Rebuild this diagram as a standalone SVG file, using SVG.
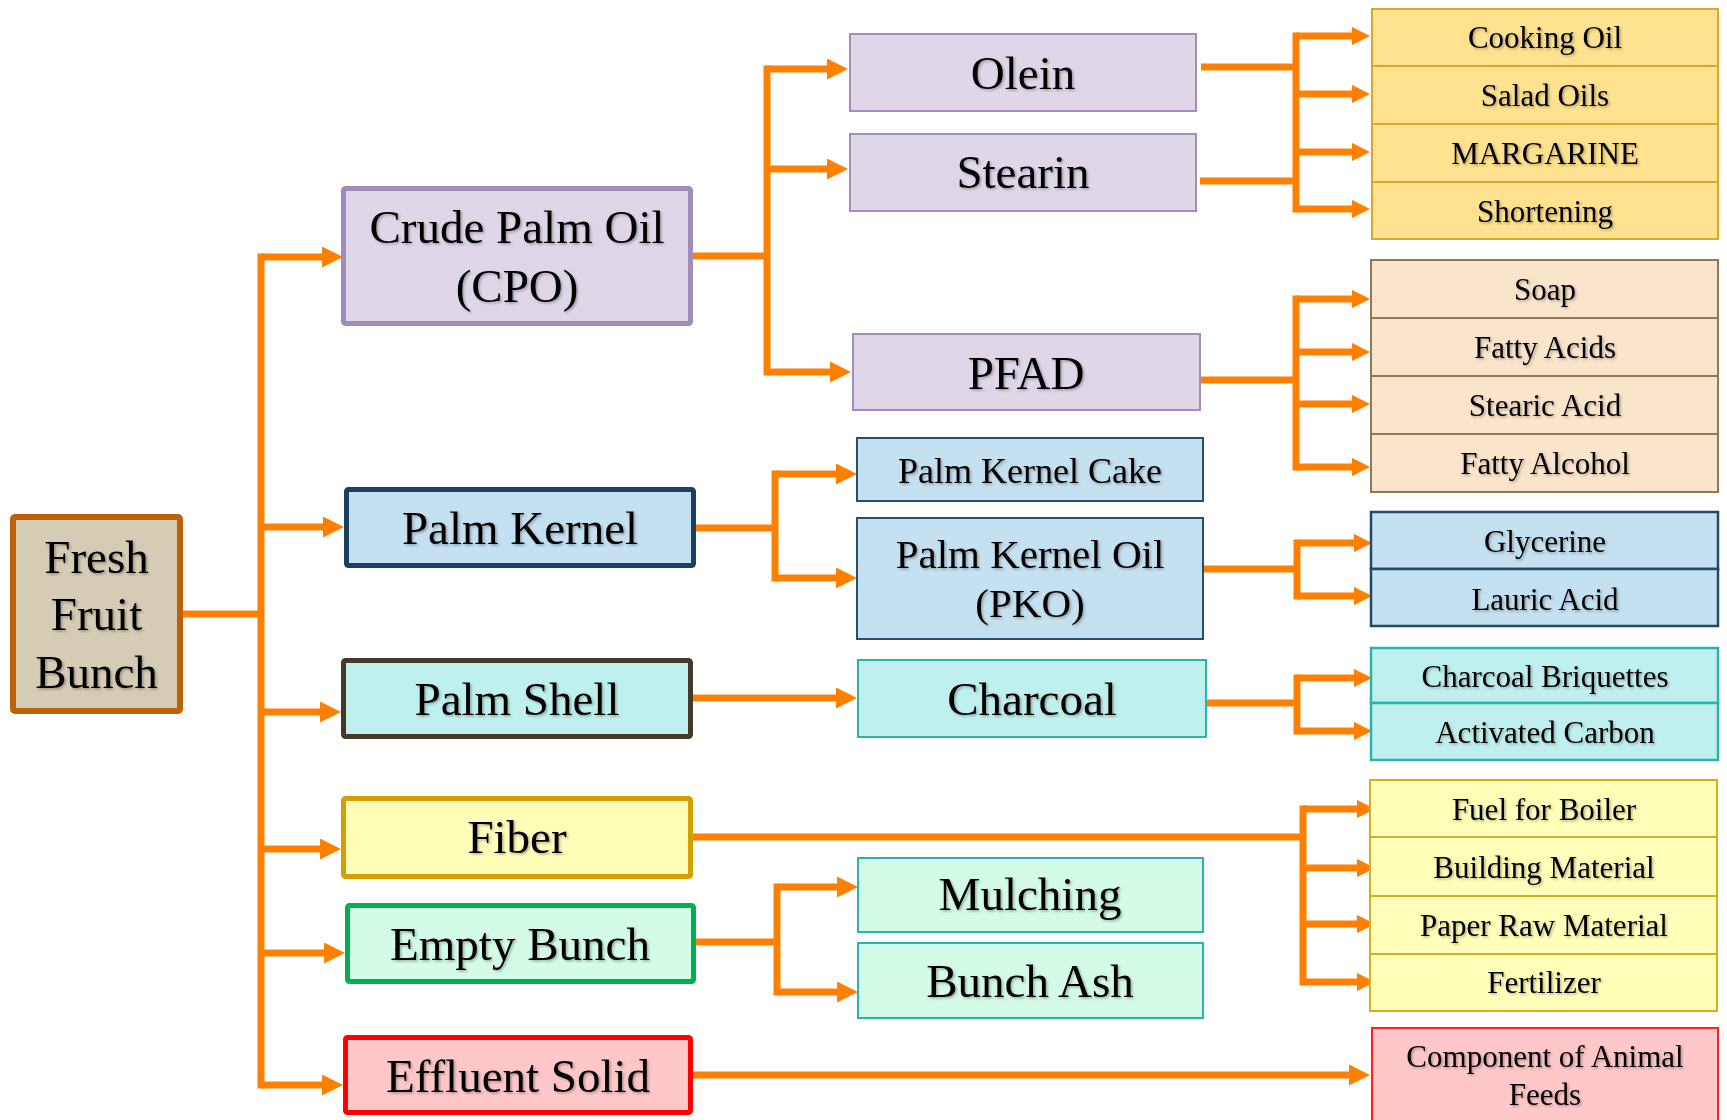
<svg xmlns="http://www.w3.org/2000/svg" width="1727" height="1120" viewBox="0 0 1727 1120">
<style>
text{font-family:"Liberation Serif","Times New Roman",serif;fill:#000;text-anchor:middle;filter:url(#sh)}
.big{font-size:47px}
.mid{font-size:41px}
.pkc{font-size:36px}
.sm{font-size:31px}
.c{fill:none;stroke:#FF8000;stroke-width:7}
.a{marker-end:url(#ah)}
.as{marker-end:url(#ahs)}
</style>
<defs>
<filter id="sh" x="-10%" y="-20%" width="120%" height="150%">
<feDropShadow dx="1.5" dy="1.5" stdDeviation="1" flood-color="#000" flood-opacity="0.3"/>
</filter>
<marker id="ah" viewBox="0 0 10 10" refX="0" refY="5" markerWidth="3" markerHeight="3" orient="auto" markerUnits="strokeWidth">
<path d="M0,0 L10,5 L0,10 z" fill="#FF8000"/>
</marker>
<marker id="ahs" viewBox="0 0 10 10" refX="0" refY="5" markerWidth="2.6" markerHeight="2.6" orient="auto" markerUnits="strokeWidth">
<path d="M0,0 L10,5 L0,10 z" fill="#FF8000"/>
</marker>
</defs>
<rect width="1727" height="1120" fill="#fff"/>

<g id="connectors">
<path class="c" d="M261,253.5 V1088.5"/>
<path class="c" d="M183,614 H261"/>
<path class="c a" d="M261,257 H322"/>
<path class="c a" d="M261,527 H323"/>
<path class="c a" d="M261,712 H320"/>
<path class="c a" d="M261,849 H320"/>
<path class="c a" d="M261,953 H324"/>
<path class="c a" d="M261,1085 H322"/>

<path class="c" d="M693,256 H767"/>
<path class="c" d="M767,65.5 V375.5"/>
<path class="c a" d="M767,69 H827"/>
<path class="c a" d="M767,169 H827"/>
<path class="c a" d="M767,372 H830"/>

<path class="c" d="M696,528 H775"/>
<path class="c" d="M775,470.5 V581.5"/>
<path class="c a" d="M775,474 H836"/>
<path class="c a" d="M775,578 H836"/>

<path class="c a" d="M693,698 H836"/>

<path class="c" d="M696,942 H777"/>
<path class="c" d="M777,883.5 V995.5"/>
<path class="c a" d="M777,887 H837"/>
<path class="c a" d="M777,992 H837"/>

<path class="c a" d="M693,1075 H1349"/>

<path class="c" d="M693,837 H1303"/>
<path class="c" d="M1303,805.5 V985.5"/>
<path class="c as" d="M1303,809 H1357"/>
<path class="c as" d="M1303,868 H1357"/>
<path class="c as" d="M1303,924 H1357"/>
<path class="c as" d="M1303,982 H1357"/>

<path class="c" d="M1201,67 H1296"/>
<path class="c" d="M1200,181 H1296"/>
<path class="c" d="M1296,32.5 V212.5"/>
<path class="c as" d="M1296,36 H1352"/>
<path class="c as" d="M1296,94 H1352"/>
<path class="c as" d="M1296,152 H1352"/>
<path class="c as" d="M1296,209 H1352"/>

<path class="c" d="M1201,380 H1296"/>
<path class="c" d="M1296,295.5 V470.5"/>
<path class="c as" d="M1296,299 H1352"/>
<path class="c as" d="M1296,352 H1352"/>
<path class="c as" d="M1296,404 H1352"/>
<path class="c as" d="M1296,467 H1352"/>

<path class="c" d="M1204,569 H1297"/>
<path class="c" d="M1297,539.5 V599.5"/>
<path class="c as" d="M1297,543 H1354"/>
<path class="c as" d="M1297,596 H1354"/>

<path class="c" d="M1207,703 H1297"/>
<path class="c" d="M1297,674.5 V734.5"/>
<path class="c as" d="M1297,678 H1354"/>
<path class="c as" d="M1297,731 H1354"/>
</g>

<g id="ffb">
<rect x="13" y="517" width="167" height="194" rx="2" fill="#D5CCB5" stroke="#BC600A" stroke-width="6"/>
<text class="big" x="96.5" y="573">Fresh</text>
<text class="big" x="96.5" y="630">Fruit</text>
<text class="big" x="96.5" y="688">Bunch</text>
</g>

<g id="cpo">
<rect x="343.5" y="188.5" width="347" height="135" rx="2" fill="#DFD7E8" stroke="#A18BBB" stroke-width="5"/>
<text class="big" x="517" y="243">Crude Palm Oil</text>
<text class="big" x="517" y="302">(CPO)</text>
</g>

<g id="olein">
<rect x="850" y="34" width="346" height="77" fill="#DFD7E8" stroke="#A38CC0" stroke-width="2"/>
<text class="big" x="1023" y="89">Olein</text>
</g>
<g id="stearin">
<rect x="850" y="134" width="346" height="77" fill="#DFD7E8" stroke="#A38CC0" stroke-width="2"/>
<text class="big" x="1023" y="188">Stearin</text>
</g>
<g id="pfad">
<rect x="853" y="334" width="347" height="76" fill="#DFD7E8" stroke="#A38CC0" stroke-width="2"/>
<text class="big" x="1026" y="389">PFAD</text>
</g>

<g id="oil-products">
<rect x="1372" y="9" width="346" height="57" fill="#FFE28F" stroke="#D8A928" stroke-width="2"/>
<rect x="1372" y="66" width="346" height="58" fill="#FFE28F" stroke="#D8A928" stroke-width="2"/>
<rect x="1372" y="124" width="346" height="58" fill="#FFE28F" stroke="#D8A928" stroke-width="2"/>
<rect x="1372" y="182" width="346" height="57" fill="#FFE28F" stroke="#D8A928" stroke-width="2"/>
<text class="sm" x="1545" y="48">Cooking Oil</text>
<text class="sm" x="1545" y="106">Salad Oils</text>
<text class="sm" x="1545" y="164">MARGARINE</text>
<text class="sm" x="1545" y="222">Shortening</text>
</g>

<g id="pfad-products">
<rect x="1371" y="260" width="347" height="58" fill="#FBE4CC" stroke="#8C7A54" stroke-width="2"/>
<rect x="1371" y="318" width="347" height="58" fill="#FBE4CC" stroke="#8C7A54" stroke-width="2"/>
<rect x="1371" y="376" width="347" height="58" fill="#FBE4CC" stroke="#8C7A54" stroke-width="2"/>
<rect x="1371" y="434" width="347" height="58" fill="#FBE4CC" stroke="#8C7A54" stroke-width="2"/>
<text class="sm" x="1545" y="300">Soap</text>
<text class="sm" x="1545" y="358">Fatty Acids</text>
<text class="sm" x="1545" y="416">Stearic Acid</text>
<text class="sm" x="1545" y="474">Fatty Alcohol</text>
</g>

<g id="palm-kernel">
<rect x="346.5" y="489.5" width="347" height="76" rx="2" fill="#C5E0F0" stroke="#1A4260" stroke-width="5"/>
<text class="big" x="520" y="544">Palm Kernel</text>
</g>
<g id="pkc">
<rect x="857" y="438" width="346" height="63" fill="#C5E0F0" stroke="#244F6E" stroke-width="2"/>
<text class="pkc" x="1030" y="483">Palm Kernel Cake</text>
</g>
<g id="pko">
<rect x="857" y="518" width="346" height="121" fill="#C5E0F0" stroke="#244F6E" stroke-width="2"/>
<text class="mid" x="1030" y="568">Palm Kernel Oil</text>
<text class="mid" x="1030" y="617">(PKO)</text>
</g>
<g id="pko-products">
<rect x="1371" y="512" width="347" height="57" fill="#C5E0F0" stroke="#1F4A6A" stroke-width="2.5"/>
<rect x="1371" y="569" width="347" height="57" fill="#C5E0F0" stroke="#1F4A6A" stroke-width="2.5"/>
<text class="sm" x="1545" y="552">Glycerine</text>
<text class="sm" x="1545" y="610">Lauric Acid</text>
</g>

<g id="palm-shell">
<rect x="343.5" y="660.5" width="347" height="76" rx="2" fill="#C0F0EE" stroke="#45392A" stroke-width="5"/>
<text class="big" x="517" y="715">Palm Shell</text>
</g>
<g id="charcoal">
<rect x="858" y="660" width="348" height="77" fill="#C0F0EE" stroke="#2AB3AE" stroke-width="2"/>
<text class="big" x="1032" y="715">Charcoal</text>
</g>
<g id="charcoal-products">
<rect x="1371" y="648" width="347" height="55" fill="#C0F0EE" stroke="#2AB3AE" stroke-width="2.5"/>
<rect x="1371" y="703" width="347" height="57" fill="#C0F0EE" stroke="#2AB3AE" stroke-width="2.5"/>
<text class="sm" x="1545" y="687">Charcoal  Briquettes</text>
<text class="sm" x="1545" y="743">Activated  Carbon</text>
</g>

<g id="fiber">
<rect x="343.5" y="798.5" width="347" height="78" rx="2" fill="#FFFDB8" stroke="#D4A000" stroke-width="5"/>
<text class="big" x="517" y="853">Fiber</text>
</g>
<g id="fiber-products">
<rect x="1370" y="780" width="347" height="57" fill="#FFFFB9" stroke="#D4B020" stroke-width="2"/>
<rect x="1370" y="837" width="347" height="59" fill="#FFFFB9" stroke="#D4B020" stroke-width="2"/>
<rect x="1370" y="896" width="347" height="58" fill="#FFFFB9" stroke="#D4B020" stroke-width="2"/>
<rect x="1370" y="954" width="347" height="57" fill="#FFFFB9" stroke="#D4B020" stroke-width="2"/>
<text class="sm" x="1544" y="820">Fuel  for Boiler</text>
<text class="sm" x="1544" y="878">Building  Material</text>
<text class="sm" x="1544" y="936">Paper Raw Material</text>
<text class="sm" x="1544" y="993">Fertilizer</text>
</g>

<g id="empty-bunch">
<rect x="347.5" y="905.5" width="346" height="76" rx="2" fill="#D3FBE6" stroke="#00B050" stroke-width="5"/>
<text class="big" x="520" y="960">Empty Bunch</text>
</g>
<g id="mulching">
<rect x="858" y="858" width="345" height="74" fill="#D3FBE6" stroke="#2AB3AE" stroke-width="2"/>
<text class="big" x="1030" y="910">Mulching</text>
</g>
<g id="bunch-ash">
<rect x="858" y="943" width="345" height="75" fill="#D3FBE6" stroke="#2AB3AE" stroke-width="2"/>
<text class="big" x="1030" y="997">Bunch Ash</text>
</g>

<g id="effluent-solid">
<rect x="345.5" y="1037.5" width="345" height="75" rx="2" fill="#FFC7C7" stroke="#FF0000" stroke-width="5"/>
<text class="big" x="518" y="1092">Effluent Solid</text>
</g>
<g id="animal-feeds">
<rect x="1372" y="1028" width="346" height="96" fill="#FFC7C7" stroke="#FF2020" stroke-width="2"/>
<text class="sm" x="1545" y="1067">Component of Animal</text>
<text class="sm" x="1545" y="1105">Feeds</text>
</g>
</svg>
